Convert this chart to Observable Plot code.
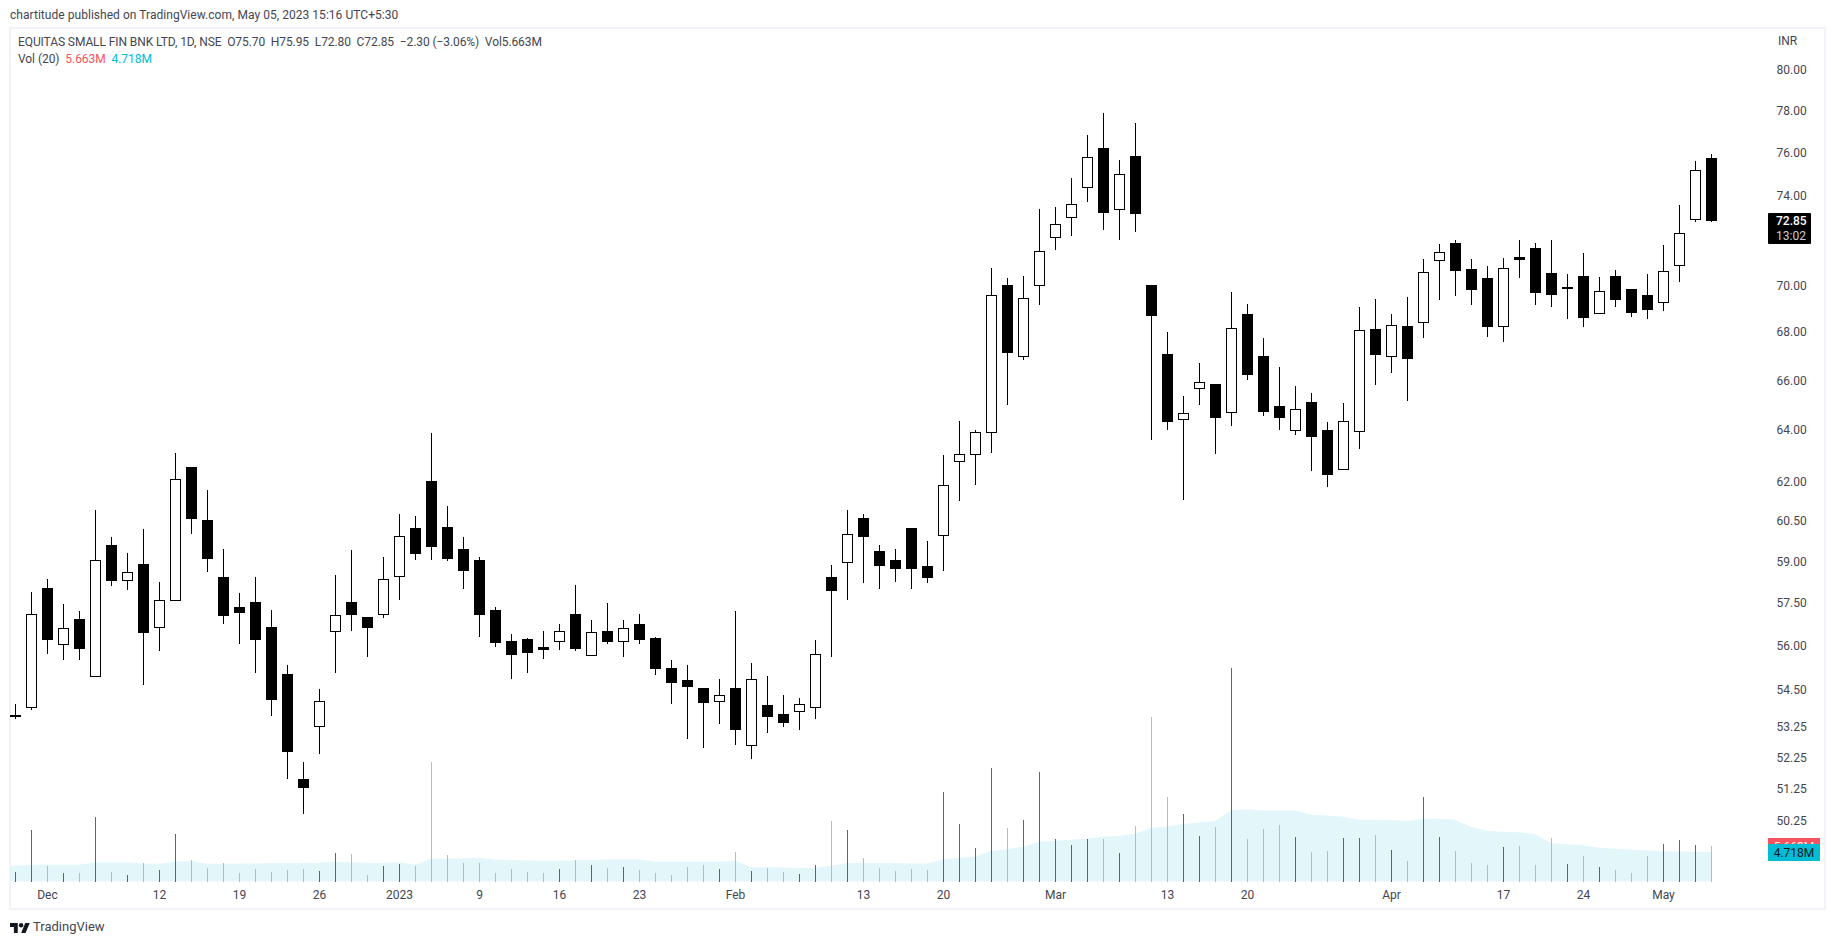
<!DOCTYPE html>
<html><head><meta charset="utf-8">
<script src="https://cdn.jsdelivr.net/npm/d3@7"></script>
<script src="https://cdn.jsdelivr.net/npm/@observablehq/plot@0.6"></script>
<style>
html,body{margin:0;padding:0;background:#fff;width:1834px;height:945px;overflow:hidden;font-family:Roboto,sans-serif;color:#131722}
.abs{position:absolute;white-space:pre;font-size:12px;line-height:14px}
#frame{position:absolute;left:9px;top:26.5px;width:1813px;height:879px;border:2px solid #f0f3fa}
#plots svg{position:absolute;left:0;top:0;background:transparent}
</style></head><body>
<div class="abs" style="left:10px;top:8px;color:#434651;letter-spacing:.04px">chartitude published on TradingView.com, May 05, 2023 15:16 UTC+5:30</div>
<div id="frame"></div>
<div id="plots"></div>
<div class="abs" style="left:18px;top:35px;color:#434651;letter-spacing:-.09px">EQUITAS SMALL FIN BNK LTD, 1D, NSE  O75.70  H75.95  L72.80  C72.85  −2.30 (−3.06%)  Vol5.663M</div>
<div class="abs" style="left:18px;top:52px;color:#434651;letter-spacing:-.05px">Vol (20)  <span style="color:#f7525f">5.663M</span>  <span style="color:#00bcd4">4.718M</span></div>
<div class="abs" style="left:1778px;top:34px;color:#434651">INR</div>
<div class="abs" style="left:1768px;top:213px;width:43px;height:31px;background:#000;border-radius:1px"></div>
<div class="abs" style="left:1776px;top:214px;color:#fff;font-weight:500">72.85</div>
<div class="abs" style="left:1776px;top:229px;color:#ccc">13:02</div>
<div class="abs" style="left:1768px;top:838px;width:52px;height:7px;background:#f7525f;color:#fff;text-align:center;overflow:hidden;line-height:18px">5.663M</div>
<div class="abs" style="left:1768px;top:844px;width:52px;height:17px;background:#00bcd4;color:#131722;text-align:center;line-height:18px">4.718M</div>
<svg class="abs" style="left:10px;top:922px" width="20" height="12" viewBox="0 3 36 20"><path fill="#131722" d="M14 22H7V11H0V4h14v18zM28 22h-8l7.5-18h8L28 22z"/><circle fill="#131722" cx="20" cy="8" r="4"/></svg>
<div class="abs" style="left:33px;top:920px;color:#434651;font-size:13px">TradingView</div>
<script>
const openP=[53.60,53.90,58.00,56.05,56.90,54.95,59.60,58.30,58.90,56.65,57.60,62.55,60.50,58.40,57.35,57.50,56.65,55.00,51.55,53.25,56.50,57.50,57.00,57.10,58.45,60.20,62.00,60.25,59.45,59.05,57.25,56.15,56.20,55.95,56.15,57.10,55.65,56.50,56.15,56.75,56.25,55.20,54.80,54.55,54.10,54.55,52.65,53.95,53.65,53.75,53.90,58.40,58.95,60.60,59.35,59.05,60.20,58.80,59.95,62.75,63.05,63.90,70.00,67.00,70.00,72.10,73.00,74.35,76.20,73.35,75.80,70.00,67.05,64.40,65.65,65.85,64.70,68.75,67.00,64.95,64.00,65.10,64.00,62.45,63.95,68.10,67.00,68.25,68.40,71.10,71.85,70.70,70.30,68.25,71.20,71.60,70.50,69.85,70.40,68.80,70.40,69.80,69.55,69.25,70.85,72.90,75.70];
const highP=[54.00,57.90,58.35,57.45,57.20,60.90,59.90,59.30,60.20,58.25,63.10,62.55,61.65,59.45,57.85,58.45,57.25,55.35,52.10,54.50,58.50,59.40,57.00,59.15,60.75,60.70,63.90,61.05,59.90,59.15,57.35,56.40,56.25,56.50,56.75,58.15,56.90,57.50,56.90,57.10,56.30,55.50,55.35,54.55,54.85,57.20,55.40,54.95,54.30,54.20,56.20,58.85,60.90,60.75,59.60,59.45,60.20,59.75,63.00,64.35,64.00,70.75,70.30,70.40,73.40,73.50,74.80,76.85,77.90,75.65,77.40,70.00,68.00,65.35,66.70,65.85,69.70,69.20,67.75,66.55,65.75,65.50,64.30,65.10,69.05,69.40,68.75,69.50,71.15,71.80,72.00,71.15,70.85,71.20,72.00,71.85,72.00,70.50,71.40,70.35,70.65,69.80,70.50,71.75,73.55,75.60,75.95];
const lowP=[53.50,53.80,55.70,55.50,55.50,54.95,58.10,57.95,54.65,55.80,57.60,60.00,58.60,56.75,56.05,55.05,53.60,51.55,50.45,52.35,55.05,56.50,55.60,56.95,57.60,59.05,59.05,59.00,58.00,56.30,55.95,54.85,55.05,55.55,55.85,55.80,55.65,56.05,55.60,56.05,55.00,54.00,52.85,52.55,53.35,52.65,52.20,53.05,53.25,53.15,53.50,55.60,57.60,58.20,58.00,58.25,58.00,58.20,58.65,61.25,61.85,63.10,65.00,66.85,69.15,71.55,72.15,73.70,72.45,72.00,72.35,63.60,64.00,61.30,65.00,63.05,64.15,66.00,64.55,64.00,63.80,62.40,61.80,62.45,63.25,65.80,66.30,65.15,67.75,69.35,69.55,69.15,67.80,67.60,70.30,69.15,69.05,68.55,68.20,68.80,69.05,68.65,68.55,68.90,70.15,72.80,72.80];
const closeP=[53.62,57.10,56.20,56.60,55.90,59.05,58.30,58.60,56.45,57.60,62.05,60.60,59.10,57.05,57.15,56.20,54.15,52.45,51.30,54.10,57.05,57.10,56.65,58.35,59.90,59.30,59.55,59.10,58.65,57.10,56.10,55.70,55.75,55.85,56.50,55.90,56.45,56.15,56.60,56.20,55.20,54.75,54.60,54.05,54.30,53.15,54.85,53.60,53.40,54.00,55.70,57.95,60.00,59.90,58.85,58.75,58.75,58.40,61.85,63.05,63.90,69.55,67.15,69.45,71.50,72.70,73.60,75.75,73.25,74.95,73.20,68.70,64.35,64.65,65.90,64.50,68.15,66.25,64.75,64.50,64.80,63.75,62.25,64.35,68.05,67.05,68.30,66.90,70.55,71.45,70.65,69.80,68.25,70.75,71.15,69.70,69.60,69.90,68.60,69.75,69.40,68.85,68.95,70.60,72.30,75.15,72.85];
const volumeM=[1.54,8.20,2.48,1.38,1.38,10.23,1.54,1.05,2.97,1.87,7.54,3.47,2.20,2.97,1.38,2.04,1.54,1.87,2.04,1.71,4.57,4.40,1.05,2.48,2.81,2.48,18.98,4.24,2.97,2.97,1.38,2.04,1.54,1.38,2.04,3.47,2.64,2.20,2.31,1.87,1.38,1.05,2.31,2.64,2.04,4.73,1.71,2.20,1.54,1.21,2.64,9.63,8.20,3.74,2.20,1.71,2.04,1.87,14.19,9.13,5.34,17.99,8.53,9.79,17.38,6.77,5.83,6.77,6.77,4.57,8.80,26.07,13.42,10.73,7.26,8.64,33.83,6.77,8.36,8.97,7.10,4.73,4.84,6.93,6.93,7.37,5.01,3.30,13.42,7.10,4.84,2.97,2.64,5.50,5.67,2.64,6.93,2.81,4.07,2.31,1.87,1.38,4.07,6.00,6.60,5.83,5.663];
const volumeMA=[2.40,2.48,2.64,2.64,2.64,2.64,3.03,3.03,3.03,2.86,2.81,3.14,3.25,2.81,2.81,2.86,2.86,2.92,2.92,2.92,2.97,3.14,3.03,2.97,2.97,3.03,2.64,3.58,3.63,3.69,3.74,3.47,3.41,3.36,3.30,3.30,3.36,3.41,3.47,3.47,3.47,3.14,3.14,3.14,3.14,3.14,3.30,2.31,2.26,2.20,2.15,2.15,2.48,2.92,2.92,2.92,2.92,2.86,2.86,3.47,3.74,3.96,4.84,5.12,5.50,6.27,6.44,6.60,6.82,7.10,7.21,7.54,8.47,8.69,9.08,9.35,9.57,11.28,11.44,11.22,11.22,11.22,10.62,10.45,10.23,9.79,9.79,9.74,9.57,9.90,9.96,9.79,8.64,8.03,7.87,7.81,7.48,6.11,5.89,5.72,5.34,5.17,5.01,4.95,4.75,4.73,4.72,4.718];
const yTicks=[80,78,76,74,70,68,66,64,62,60.5,59,57.5,56,54.5,53.25,52.25,51.25,50.25];
const xTickIdx=[2,9,14,19,24,29,34,39,45,53,58,65,72,77,86,93,98,103];
const xTickLabels=["Dec","12","19","26","2023","9","16","23","Feb","13","20","Mar","13","20","Apr","17","24","May"];
const bars=openP.map((o,i)=>({i,o,h:highP[i],l:lowP[i],c:closeP[i],v:volumeM[i],up:closeP[i]>=o}));
const ma=volumeMA.map((v,k)=>({i:k-1,v}));
const halfBody=0.3125, xRange=[15,1711];
const volAxis=Plot.plot({width:1834,height:945,marginLeft:10,marginRight:0,marginTop:0,marginBottom:63.2,
  style:{background:"transparent",fontFamily:"Roboto",fontSize:"12px",color:"#434651"},
  x:{type:"linear",domain:[0,106],range:xRange},y:{domain:[0,40],range:[881.5,628.7],axis:null},
  marks:[
    Plot.areaY(ma,{x:"i",y:"v",fill:"#e3f7fb",clip:"frame",curve:"linear"}),
    Plot.ruleX(bars,{x:"i",y1:0,y2:"v",stroke:d=>d.up?"#2962ff":"#f4a0aa",strokeWidth:1,shapeRendering:"crispEdges"}),
    Plot.axisX(xTickIdx,{anchor:"bottom",tickSize:0,tickPadding:8,label:null,tickFormat:d=>xTickLabels[xTickIdx.indexOf(d)],fill:"#434651"})
  ]});
const price=Plot.plot({width:1834,height:945,marginLeft:0,marginRight:58,marginTop:0,marginBottom:0,
  style:{background:"transparent",fontFamily:"Roboto",fontSize:"12px",color:"#434651"},
  x:{type:"linear",domain:[0,106],range:xRange,axis:null},
  y:{type:"log",domain:[50.25,80],range:[820.6,69.7]},
  marks:[
    Plot.ruleX(bars,{x:"i",y1:"l",y2:"h",stroke:"#000",strokeWidth:1,shapeRendering:"crispEdges"}),
    Plot.rect(bars,{x1:d=>d.i-halfBody,x2:d=>d.i+halfBody,y1:d=>Math.min(d.o,d.c),y2:d=>Math.max(d.o,d.c),fill:d=>d.up?"#fff":"#000",stroke:"#000",strokeWidth:1,shapeRendering:"crispEdges"}),
    Plot.axisY(yTicks,{anchor:"right",tickSize:0,tickPadding:0,label:null,tickFormat:d=>d.toFixed(2),fill:"#434651"})
  ]});
document.getElementById("plots").append(volAxis,price);
</script></body></html>
